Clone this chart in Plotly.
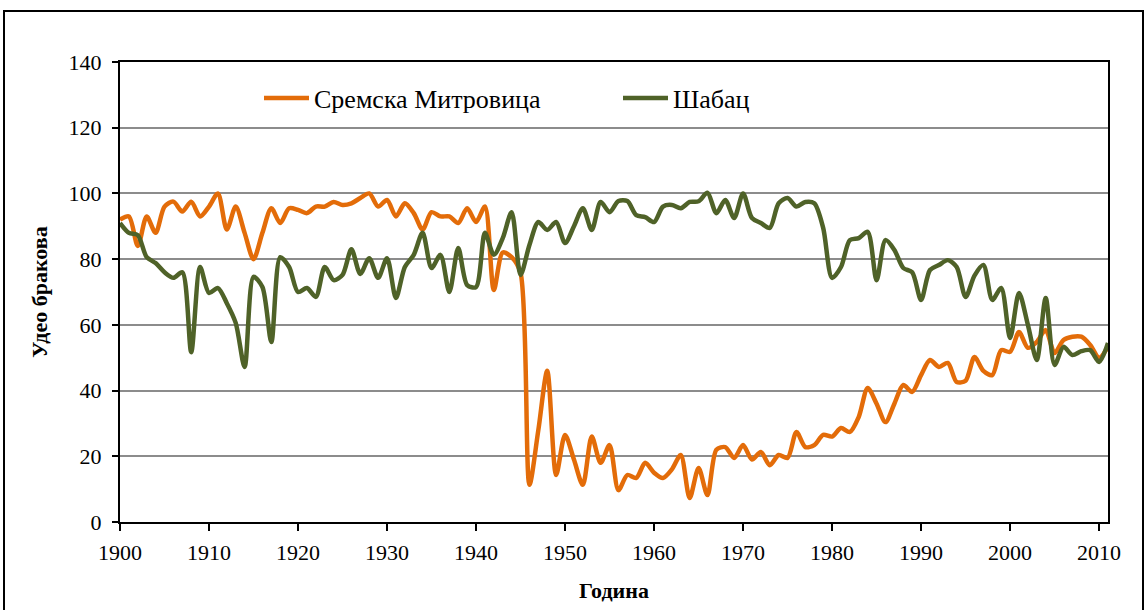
import plotly.graph_objects as go

years = list(range(1900, 2012))

# Сремска Митровица
sremska_mitrovica = [
    92, 93, 84, 93, 88, 96, 97.5, 94.5, 97.5, 93, 96, 100, 89, 96, 88, 80,
    88, 95.5, 91, 95.5, 95, 94, 96, 96, 97.4, 96.5, 97, 98.6, 100, 96, 98,
    93, 97, 94, 89, 94.3, 93, 93, 91, 95.5, 91.3, 96, 70.6, 82, 80.6, 75.8,
    11.3, 28, 46, 14.3, 26.5, 19, 11.3, 26, 18, 23.4, 9.7, 14.3, 13.4, 18,
    15, 13.4, 16, 20.4, 7.3, 16.4, 8.2, 22, 22.8, 19.5, 23.4, 19, 21.3, 17.3,
    20.4, 19.5, 27.4, 22.8, 23.4, 26.5, 26, 28.6, 27.4, 32, 40.8, 36, 30.4,
    36, 41.7, 39.6, 44.7, 49.3, 47.2, 48.4, 42.6, 43, 50.2, 46, 44.7, 52.3,
    51.8, 57.8, 53, 54.8, 58.4, 51.4, 55.4, 56.4, 56.4, 53.9, 50, 53.3,
]

# Шабац
sabac = [
    91, 88, 87.3, 80.6, 78.8, 76, 74.3, 76, 51.7, 77.6, 69.7, 71.2, 66.6,
    60.6, 47.2, 74.6, 71.5, 54.8, 80.6, 77.6, 70, 71.2, 68.5, 77.6, 73.6,
    75.2, 83, 75.5, 80.3, 74.3, 80.3, 68.2, 77.6, 81.3, 88, 77.3, 81.3, 70,
    83.4, 72.1, 71.5, 88, 81.3, 86.4, 94.3, 75.2, 84.3, 91.3, 88.9, 91.3,
    84.9, 90, 95.5, 88.9, 97.4, 94.3, 97.7, 97.7, 93.4, 92.8, 91.3, 96, 96.5,
    95.5, 97.4, 97.6, 100.2, 94, 98, 92.5, 100, 92.5, 91, 89.5, 97, 98.6, 96,
    97.4, 97, 89.5, 74.3, 77.6, 85.8, 86.4, 88.3, 73.6, 85.8, 82.8, 77.3, 76,
    67.6, 76.7, 78.2, 79.7, 77.6, 68.5, 75, 78.2, 67.6, 71.2, 56, 69.7, 60,
    49.3, 68.2, 47.8, 53.3, 50.8, 52, 52.3, 48.7, 54.5,
]

y_ticks = [0, 20, 40, 60, 80, 100, 120, 140]
x_ticks = list(range(1900, 2011, 10))

ORANGE = "#E36C09"
GREEN = "#4F6228"
FONT = "Liberation Serif"

fig = go.Figure()
fig.add_trace(go.Scatter(
    x=years, y=sremska_mitrovica, name="Сремска Митровица", mode="lines",
    line=dict(color=ORANGE, width=4.5, shape="spline", smoothing=0.8),
))
fig.add_trace(go.Scatter(
    x=years, y=sabac, name="Шабац", mode="lines",
    line=dict(color=GREEN, width=4.5, shape="spline", smoothing=0.8),
))

# plot area spans x 120..1108, y 62..522 in a 1146x610 page
L, R, T, B = 120, 38, 62, 88
W, H = 1146, 610
pw, ph = W - L - R, H - T - B


def px_x(x):
    return (x - L) / pw


def px_y(y):
    return (H - B - y) / ph


fig.update_layout(
    width=W, height=H,
    margin=dict(l=L, r=R, t=T, b=B, pad=0),
    paper_bgcolor="white", plot_bgcolor="white",
    font=dict(family=FONT, size=21, color="black"),
    showlegend=True,
    legend=dict(
        orientation="h", x=px_x(259), y=px_y(98), xanchor="left", yanchor="middle",
        font=dict(family=FONT, size=26, color="black"),
        entrywidth=299, entrywidthmode="pixels",
        bgcolor="rgba(0,0,0,0)", itemwidth=45,
    ),
    xaxis=dict(
        range=[1900, 2011], tickvals=x_ticks, ticktext=[str(v) for v in x_ticks],
        showgrid=False, zeroline=False,
        showline=True, linecolor="black", linewidth=2, mirror=True,
        ticks="outside", ticklen=7, tickwidth=2, tickcolor="black",
        tickfont=dict(family=FONT, size=22), ticklabelstandoff=3,
        title=dict(text="<b>Година</b>", font=dict(family=FONT, size=22), standoff=18),
    ),
    yaxis=dict(
        range=[0, 140], tickvals=y_ticks, ticktext=[str(v) for v in y_ticks],
        showgrid=True, gridcolor="#8C8C8C", gridwidth=2, zeroline=False,
        showline=True, linecolor="black", linewidth=2, mirror=True,
        ticks="outside", ticklen=6, tickwidth=2, tickcolor="black",
        tickfont=dict(family=FONT, size=22), ticklabelstandoff=6,
        title=dict(text="<b>Удео бракова</b>", font=dict(family=FONT, size=22), standoff=15),
    ),
    shapes=[
        dict(type="rect", xref="paper", yref="paper",
             x0=px_x(4), x1=px_x(1143), y0=px_y(640), y1=px_y(11),
             line=dict(color="black", width=2), fillcolor="rgba(0,0,0,0)", layer="below"),
    ],
)

fig.write_html("out.html")
